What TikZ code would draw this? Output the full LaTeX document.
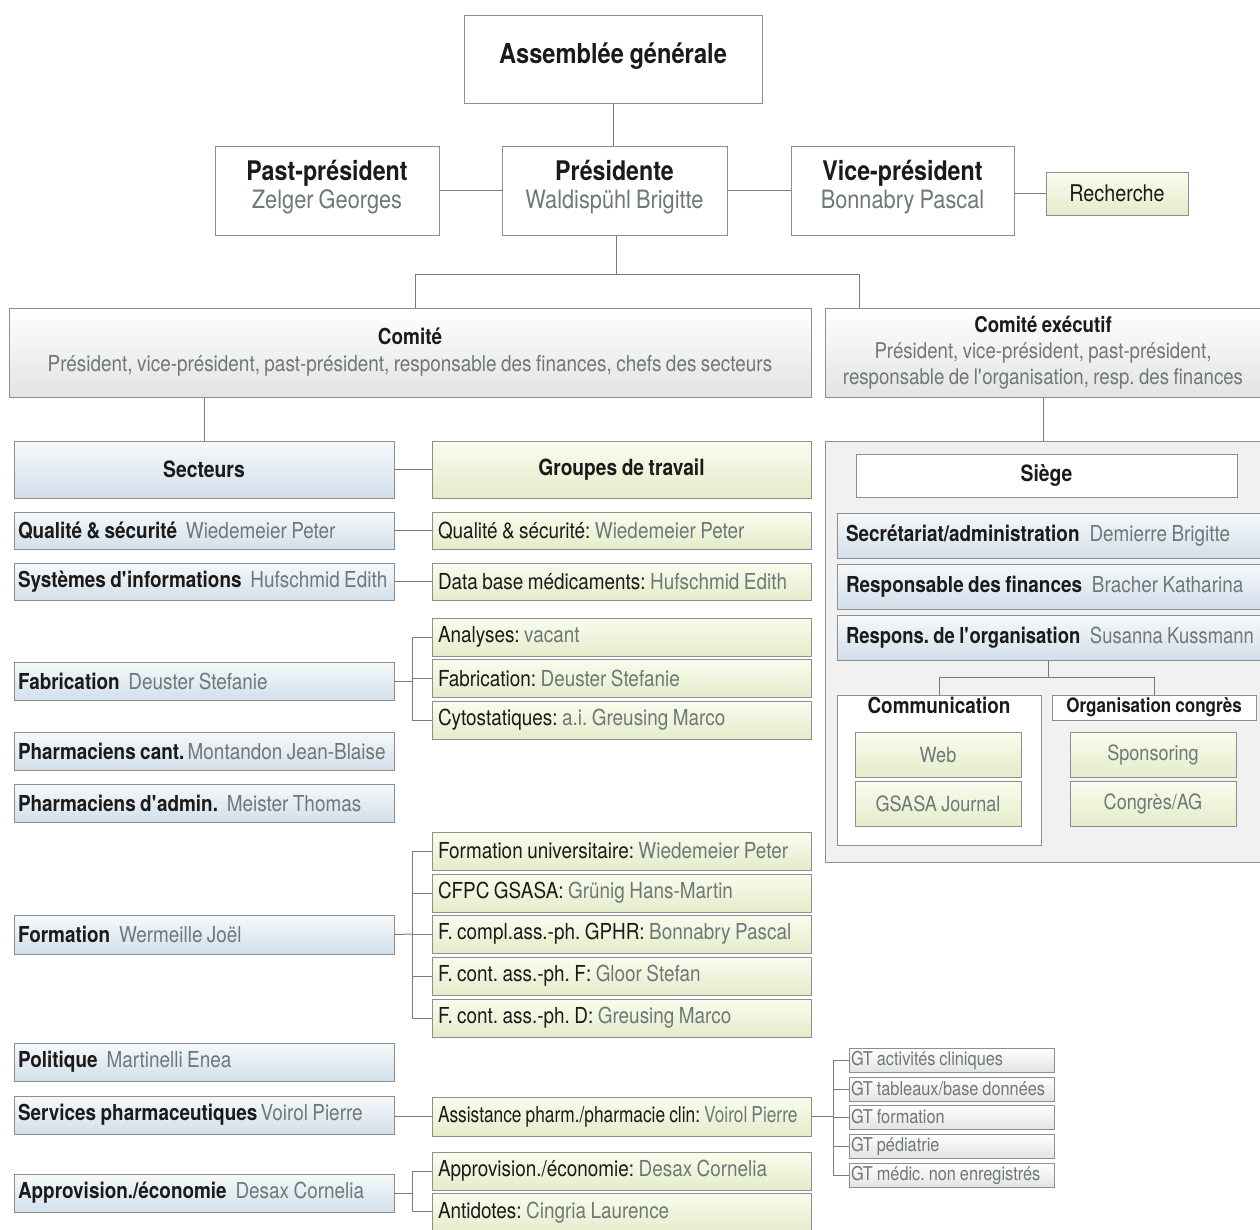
\documentclass[tikz,border=0pt]{standalone}
\usepackage{fontspec}
\usepackage{graphicx}
\setmainfont{TeX Gyre Heros}[FakeStretch=0.86, WordSpace=0.85]
\definecolor{bordc}{HTML}{8E8E8E}
\definecolor{linec}{HTML}{7A7A7A}
\definecolor{namec}{HTML}{6E7879}
\definecolor{txtc}{HTML}{1A1A1A}
\definecolor{bluet}{HTML}{F6F9FB}
\definecolor{blueb}{HTML}{D2DFEA}
\definecolor{greent}{HTML}{FAFCEE}
\definecolor{greenb}{HTML}{E4ECCA}
\definecolor{grayb}{HTML}{E3E3E3}
\definecolor{panelc}{HTML}{F1F1F1}
\tikzset{
  basebox/.style={draw=bordc, line width=1pt, inner sep=0pt, text=txtc},
  whitebox/.style={basebox, fill=white, align=center},
  bluebox/.style={basebox, top color=bluet, bottom color=blueb},
  greenbox/.style={basebox, top color=greent, bottom color=greenb},
  graybox/.style={basebox, top color=white, bottom color=grayb},
  panelbox/.style={basebox, fill=panelc},
  conn/.style={draw=linec, line width=1pt},
  secrow/.style={bluebox, font=\fontsize{22}{24}\selectfont},
  grprow/.style={greenbox, font=\fontsize{22}{24}\selectfont},
  hqrow/.style={bluebox, font=\fontsize{22}{24}\selectfont},
  gtbox/.style={graybox, text=namec, font=\fontsize{19}{20}\selectfont},
  combox/.style={greenbox, align=center, text=namec, font=\fontsize{21}{24}\selectfont},
  topbox/.style={whitebox, text depth=12pt, font=\fontsize{25.3}{28.5}\selectfont},
}
\newcommand\nm[1]{{\color{namec}#1}}
\newcommand\ap{\textquotesingle}
\newcommand\bx[7]{\node[#2, minimum width={(#5-#3)*1pt}, minimum height={(#6-#4)*1pt}] (#1) at ({(#3+#5)/2},{(#4+#6)/2}) {#7};}
\newcommand\lbx[8]{\node[#2, minimum width={(#5-#3)*1pt}, minimum height={(#6-#4)*1pt}] (#1) at ({(#3+#5)/2},{(#4+#6)/2}) {\makebox[\dimexpr #5pt-#3pt-#7pt-#7pt\relax][l]{#8}};}
\begin{document}
\frenchspacing
\begin{tikzpicture}[x=1pt,y=-1pt]
\useasboundingbox[fill=white] (0,0) rectangle (1260,1229);
% top level
\bx{ag}{whitebox, text depth=12pt, font=\fontsize{27.5}{30}\selectfont\bfseries}{464}{15}{762}{103}{Assemblée générale}
\bx{past}{topbox}{215}{146}{439}{235}{{\fontsize{27}{28.5}\selectfont\bfseries Past-président}\\\nm{Zelger Georges}}
\bx{pres}{topbox}{502}{146}{727}{235}{{\fontsize{27}{28.5}\selectfont\bfseries Présidente}\\\nm{Waldispühl Brigitte}}
\bx{vice}{topbox}{791}{146}{1014}{235}{{\fontsize{27}{28.5}\selectfont\bfseries Vice-président}\\\nm{Bonnabry Pascal}}
\bx{rech}{greenbox, font=\fontsize{23}{24}\selectfont}{1046}{172}{1188}{215}{Recherche}
\draw[conn] (ag.south) -- (ag.south |- pres.north);
\draw[conn] (past.east) -- (pres.west);
\draw[conn] (pres.east) -- (vice.west);
\draw[conn] (vice.east |- rech.west) -- (rech.west);
% comite level
\bx{comite}{graybox, align=center, font=\fontsize{22}{24}\selectfont}{9}{308}{811}{397}{\textbf{Comité}\\[3pt]\nm{Président, vice-président, past-président, responsable des finances, chefs des secteurs}}
\bx{cex}{graybox, align=center, font=\fontsize{21.7}{26}\selectfont}{825}{308}{1261}{397}{\textbf{Comité exécutif}\\\nm{Président, vice-président, past-président,}\\\nm{responsable de l\ap organisation, resp. des finances}}
\coordinate (jm) at (616,274);
\coordinate (jl) at (415,274);
\coordinate (jr) at (859,274);
\draw[conn] (pres.south -| jm) -- (jm);
\draw[conn] (comite.north -| jl) -- (jl) -- (jr) -- (cex.north -| jr);
% sectors / groups headers
\bx{sect}{bluebox, font=\fontsize{22.5}{24}\selectfont\bfseries}{14}{441}{394}{498}{Secteurs}
\bx{grp}{greenbox, font=\fontsize{22.3}{24}\selectfont\bfseries}{432}{441}{811}{498}{Groupes de travail}
\draw[conn] (sect.north |- comite.south) -- (sect.north);
\draw[conn] (sect.east) -- (grp.west);
% sector rows
\lbx{s1}{secrow}{14}{512}{394}{549}{4}{\textbf{Qualité \& sécurité}\hspace{0.4em}\nm{Wiedemeier Peter}}
\lbx{s2}{secrow}{14}{563}{394}{600}{4}{\textbf{Systèmes d\ap informations}\hspace{0.4em}\nm{Hufschmid Edith}}
\lbx{s3}{secrow}{14}{662}{394}{700}{4}{\textbf{Fabrication}\hspace{0.4em}\nm{Deuster Stefanie}}
\lbx{s4}{secrow}{14}{732}{394}{770}{4}{\textbf{Pharmaciens cant.}\hspace{0.15em}\nm{Montandon Jean-Blaise}}
\lbx{s5}{secrow}{14}{784}{394}{822}{4}{\textbf{Pharmaciens d\ap admin.}\hspace{0.4em}\nm{Meister Thomas}}
\lbx{s6}{secrow}{14}{915}{394}{954}{4}{\textbf{Formation}\hspace{0.4em}\nm{Wermeille Joël}}
\lbx{s7}{secrow}{14}{1043}{394}{1081}{4}{\textbf{Politique}\hspace{0.4em}\nm{Martinelli Enea}}
\lbx{s8}{secrow}{14}{1096}{394}{1134}{4}{\textbf{Services pharmaceutiques}\hspace{0.15em}\nm{Voirol Pierre}}
\lbx{s9}{secrow}{14}{1174}{394}{1212}{4}{\textbf{Approvision./économie}\hspace{0.4em}\nm{Desax Cornelia}}
% group rows
\lbx{g1}{grprow}{432}{512}{811}{549}{6}{Qualité \& sécurité: \nm{Wiedemeier Peter}}
\lbx{g2}{grprow}{432}{563}{811}{600}{6}{Data base médicaments: \nm{Hufschmid Edith}}
\lbx{g3}{grprow}{432}{618}{811}{656}{6}{Analyses: \nm{vacant}}
\lbx{g4}{grprow}{432}{659}{811}{697}{6}{Fabrication: \nm{Deuster Stefanie}}
\lbx{g5}{grprow}{432}{701}{811}{739}{6}{Cytostatiques: \nm{a.i. Greusing Marco}}
\lbx{g6}{grprow}{432}{832}{811}{870}{6}{Formation universitaire: \nm{Wiedemeier Peter}}
\lbx{g7}{grprow}{432}{874}{811}{912}{6}{CFPC GSASA: \nm{Grünig Hans-Martin}}
\lbx{g8}{grprow}{432}{915}{811}{953}{6}{F. compl.ass.-ph. GPHR: \nm{Bonnabry Pascal}}
\lbx{g9}{grprow}{432}{957}{811}{995}{6}{F. cont. ass.-ph. F: \nm{Gloor Stefan}}
\lbx{g10}{grprow}{432}{999}{811}{1037}{6}{F. cont. ass.-ph. D: \nm{Greusing Marco}}
\lbx{g11}{grprow}{432}{1097}{811}{1136}{6}{\scalebox{0.915}[1]{Assistance pharm./pharmacie clin: \nm{Voirol Pierre}}}
\lbx{g12}{grprow}{432}{1152}{811}{1190}{6}{Approvision./économie: \nm{Desax Cornelia}}
\lbx{g13}{grprow}{432}{1193}{811}{1233}{6}{Antidotes: \nm{Cingria Laurence}}
% GT rows
\lbx{t1}{gtbox}{849}{1048}{1054}{1072}{2}{GT activités cliniques}
\lbx{t2}{gtbox}{849}{1077}{1054}{1101}{2}{GT tableaux/base données}
\lbx{t3}{gtbox}{849}{1105}{1054}{1129}{2}{GT formation}
\lbx{t4}{gtbox}{849}{1134}{1054}{1158}{2}{GT pédiatrie}
\lbx{t5}{gtbox}{849}{1163}{1054}{1187}{2}{GT médic. non enregistrés}
% sector-group connectors
\draw[conn] (s1.east) -- (g1.west);
\draw[conn] (s2.east) -- (g2.west);
\coordinate (bf) at (412,681);
\draw[conn] (s3.east) -- (bf);
\draw[conn] (g3.west) -- (g3.west -| bf) -- (g5.west -| bf) -- (g5.west);
\draw[conn] (g4.west) -- (g4.west -| bf);
\coordinate (bfo) at (412,934);
\draw[conn] (s6.east) -- (bfo);
\draw[conn] (g6.west) -- (g6.west -| bfo) -- (g10.west -| bfo) -- (g10.west);
\draw[conn] (g7.west) -- (g7.west -| bfo);
\draw[conn] (g8.west) -- (g8.west -| bfo);
\draw[conn] (g9.west) -- (g9.west -| bfo);
\draw[conn] (g11.west -| s8.east) -- (g11.west);
\coordinate (bap) at (412,1193);
\coordinate (bapb) at (412,1211);
\draw[conn] (s9.east) -- (bap);
\draw[conn] (g12.west) -- (g12.west -| bap) -- (bapb) -- (bapb -| g13.west);
\coordinate (bgt) at (833,1116.5);
\draw[conn] (g11.east) -- (bgt);
\draw[conn] (t1.west) -- (t1.west -| bgt) -- (t5.west -| bgt) -- (t5.west);
\draw[conn] (t2.west) -- (t2.west -| bgt);
\draw[conn] (t3.west) -- (t3.west -| bgt);
\draw[conn] (t4.west) -- (t4.west -| bgt);
% Siege panel
\bx{panel}{panelbox}{825}{441}{1262}{862}{}
\coordinate (pj) at (1043,420);
\draw[conn] (cex.south -| pj) -- (panel.north -| pj);
\bx{siege}{whitebox, font=\fontsize{22.5}{24}\selectfont\bfseries}{856}{454}{1237}{497}{Siège}
\lbx{h1}{hqrow}{837}{513}{1262}{558}{9}{\textbf{Secrétariat/administration}\hspace{0.45em}\nm{Demierre Brigitte}}
\lbx{h2}{hqrow}{837}{564}{1262}{609}{9}{\textbf{Responsable des finances}\hspace{0.45em}\nm{Bracher Katharina}}
\lbx{h3}{hqrow}{837}{615}{1262}{660}{9}{\scalebox{0.975}[1]{\textbf{Respons. de l\ap organisation}\hspace{0.45em}\nm{Susanna Kussmann}}}
\bx{comm}{whitebox}{837}{695}{1041}{845}{}
\node[anchor=north, text=txtc, font=\fontsize{22}{24}\selectfont\bfseries, inner sep=0pt] (commt) at ([yshift=-2pt]comm.north) {Communication};
\bx{orgc}{whitebox, font=\fontsize{19.8}{22}\selectfont\bfseries}{1052}{695}{1256}{720}{Organisation congrès}
\coordinate (oj) at (1048,677);
\draw[conn] (h3.south -| oj) -- (oj);
\draw[conn] (comm.north) |- (oj) -| (orgc.north);
\bx{web}{combox}{855}{732}{1021}{777}{Web}
\bx{jour}{combox}{855}{781}{1021}{826}{GSASA Journal}
\bx{spon}{combox}{1070}{732}{1236}{777}{Sponsoring}
\bx{cong}{combox}{1070}{781}{1236}{826}{Congrès/AG}
\end{tikzpicture}
\end{document}
